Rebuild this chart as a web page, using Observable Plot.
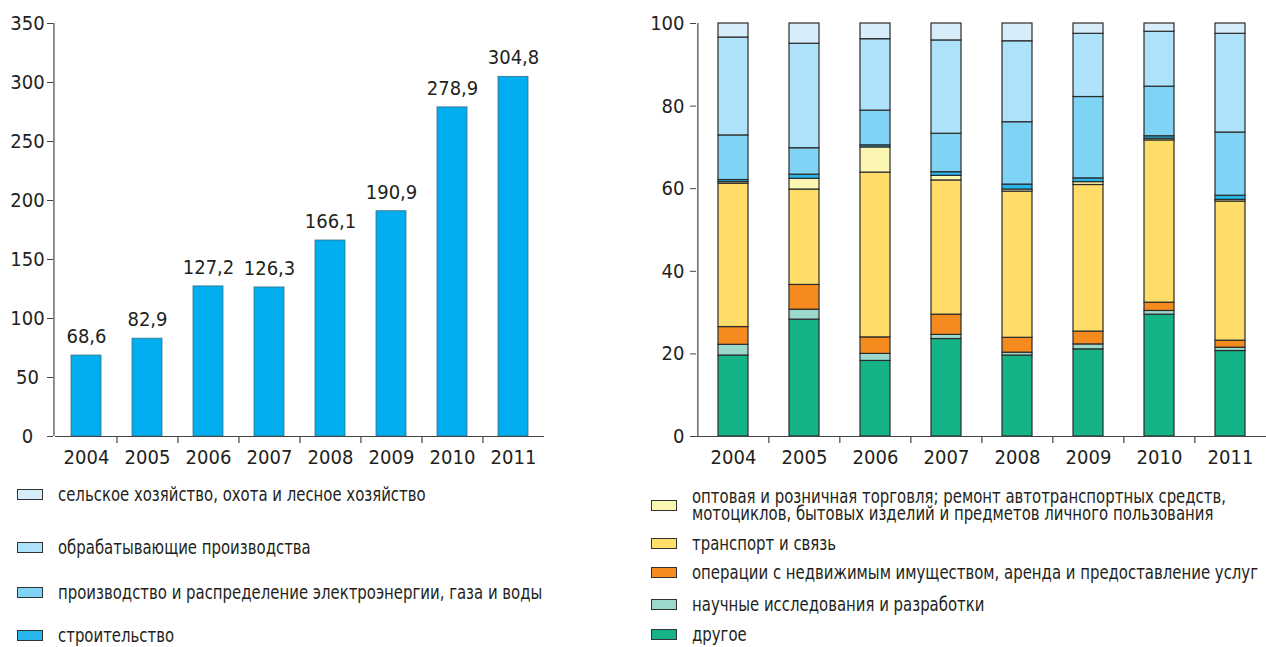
<!DOCTYPE html>
<html><head><meta charset="utf-8">
<script src="https://cdn.jsdelivr.net/npm/d3@7"></script>
<script src="https://cdn.jsdelivr.net/npm/@observablehq/plot@0.6"></script>
<style>
body{margin:0;background:#fff;}
#wrap{position:relative;width:1266px;height:647px;overflow:hidden;font-family:"Liberation Sans Narrow","DejaVu Sans Condensed",sans-serif;color:#231f20;}
#left{position:absolute;left:0;top:0;}
#right{position:absolute;left:620px;top:0;}
.leg{position:absolute;display:flex;align-items:center;font-size:19px;line-height:17.5px;white-space:pre;}
.leg .tx{transform:scaleX(0.872);transform-origin:left center;}
.sw{width:24px;height:9px;border:1px solid #333;margin-right:15px;flex:none;}
</style></head><body>
<div id="wrap"><div id="left"></div><div id="right"></div></div>
<script>
// ---- data ----
const years = ["2004","2005","2006","2007","2008","2009","2010","2011"];
const totals = [68.6, 82.9, 127.2, 126.3, 166.1, 190.9, 278.9, 304.8];
const leftTicks = [0, 50, 100, 150, 200, 250, 300, 350];
const rightTicks = [0, 20, 40, 60, 80, 100];

// sectors, bottom to top of stack
const sectors = [
  "другое",
  "научные исследования и разработки",
  "операции с недвижимым имуществом, аренда и предоставление услуг",
  "транспорт и связь",
  "оптовая и розничная торговля; ремонт автотранспортных средств,\nмотоциклов, бытовых изделий и предметов личного пользования",
  "строительство",
  "производство и распределение электроэнергии, газа и воды",
  "обрабатывающие производства",
  "сельское хозяйство, охота и лесное хозяйство"
];
const sectorColors = ["#14b388","#9dd8cc","#f58b1f","#ffdd68","#fbf7b2","#27b6ec","#7fd4f5","#aee1fa","#d7edfa"];

// shares, % (per year 2004..2011)
const drugoe      = [19.6, 28.3, 18.3, 23.6, 19.6, 21.1, 29.5, 20.7];
const nauchnye    = [2.6, 2.4, 1.7, 1.0, 0.7, 1.2, 0.9, 0.8];
const nedvizh     = [4.3, 6.0, 4.0, 4.9, 3.6, 3.1, 2.0, 1.7];
const transport   = [34.7, 23.1, 39.9, 32.5, 35.4, 35.5, 39.3, 33.7];
const torgovlya   = [0.4, 2.6, 6.1, 1.1, 0.5, 0.7, 0.4, 0.4];
const stroit      = [0.5, 1.0, 0.5, 0.9, 1.2, 0.9, 0.6, 1.0];
const elektro     = [10.8, 6.4, 8.4, 9.3, 15.1, 19.7, 12.0, 15.3];
const obrab       = [23.7, 25.3, 17.3, 22.6, 19.6, 15.3, 13.3, 23.9];
const selhoz      = [3.4, 4.9, 3.8, 4.1, 4.3, 2.5, 2.0, 2.5];

// legend groups
const leftLegend = [8, 7, 6, 5];   // indices into sectors
const rightLegend = [4, 3, 2, 1, 0];

// ---- layout ----
const font = '"Liberation Sans Narrow","DejaVu Sans Condensed",sans-serif';
const axisColor = "#444";

// left chart
{
  const W = 560, H = 480, ml = 55, mr = 16, mt = 23, mb = 44;
  const step = (W - ml - mr) / years.length;
  const rows = years.map((y, i) => ({year: y, value: totals[i]}));
  const fmt = v => v.toFixed(1).replace(".", ",");
  const chart = Plot.plot({
    width: W, height: H, marginLeft: ml, marginRight: mr, marginTop: mt, marginBottom: mb,
    style: {fontFamily: font, fontSize: "20px", color: "#231f20", background: "#fff"},
    x: {domain: years, paddingInner: 0.51, paddingOuter: 0.255, axis: null},
    y: {domain: [0, 350], axis: null},
    marks: [
      Plot.barY(rows, {x: "year", y: "value", fill: "#00aeef", stroke: "#3a6f86", strokeWidth: 0.8}),
      Plot.text(rows, {x: "year", y: "value", text: d => fmt(d.value), dy: -19, fontSize: 20, fill: "#231f20"}),
      Plot.ruleY([0], {stroke: axisColor, strokeWidth: 1.2}),
      Plot.ruleX([years[0]], {dx: -step / 2 - 2, y1: 0, y2: 350, stroke: axisColor, strokeWidth: 1.2}),
      Plot.ruleX(years.slice(1), {dx: -step / 2, y1: 0, y2: 0, insetBottom: -7, stroke: axisColor, strokeWidth: 1.2}),
      Plot.axisY({ticks: leftTicks, tickSize: 6, tickPadding: 20, textAnchor: "middle", dx: -2, stroke: axisColor, fill: "#231f20", label: null}),
      Plot.axisX({tickSize: 0, tickPadding: 13, fill: "#231f20", label: null})
    ]
  });
  document.getElementById("left").appendChild(chart);
}

// right chart
{
  const W = 646, H = 480, ml = 76, mr = 0, mt = 23, mb = 44;
  const step = (W - ml - mr) / years.length;
  const series = [drugoe, nauchnye, nedvizh, transport, torgovlya, stroit, elektro, obrab, selhoz];
  const rows = [];
  years.forEach((y, i) => series.forEach((s, k) => rows.push({year: y, sector: sectors[k], value: s[i]})));
  const chart = Plot.plot({
    width: W, height: H, marginLeft: ml, marginRight: mr, marginTop: mt, marginBottom: mb,
    style: {fontFamily: font, fontSize: "20px", color: "#231f20", background: "#fff"},
    x: {domain: years, paddingInner: 0.58, paddingOuter: 0.29, axis: null},
    y: {domain: [0, 100], axis: null},
    color: {domain: sectors, range: sectorColors},
    marks: [
      Plot.barY(rows, {x: "year", y: "value", fill: "sector", stroke: "#2b2b2b", strokeWidth: 1.2}),
      Plot.ruleY([0], {stroke: axisColor, strokeWidth: 1.2}),
      Plot.ruleX([years[0]], {dx: -step / 2, y1: 0, y2: 100, stroke: axisColor, strokeWidth: 1.2}),
      Plot.ruleX(years.slice(1), {dx: -step / 2, y1: 0, y2: 0, insetBottom: -7, stroke: axisColor, strokeWidth: 1.2}),
      Plot.axisY({ticks: rightTicks, tickSize: 6, tickPadding: 6, stroke: axisColor, fill: "#231f20", label: null}),
      Plot.axisX({tickSize: 0, tickPadding: 13, fill: "#231f20", label: null})
    ]
  });
  document.getElementById("right").appendChild(chart);
}

// legends (HTML)
const wrap = document.getElementById("wrap");
const leftRowY = [495, 548, 593, 636];
const rightRowY = [505, 544, 573, 605, 635];
function addRow(idx, x, cy) {
  const row = document.createElement("div");
  row.className = "leg";
  row.style.left = x + "px";
  const sw = document.createElement("div");
  sw.className = "sw";
  sw.style.background = sectorColors[idx];
  const tx = document.createElement("div");
  tx.className = "tx";
  tx.textContent = sectors[idx];
  row.appendChild(sw); row.appendChild(tx);
  wrap.appendChild(row);
  row.style.top = (cy - row.offsetHeight / 2) + "px";
}
leftLegend.forEach((idx, j) => addRow(idx, 17, leftRowY[j]));
rightLegend.forEach((idx, j) => addRow(idx, 651, rightRowY[j]));
</script>
</body></html>
